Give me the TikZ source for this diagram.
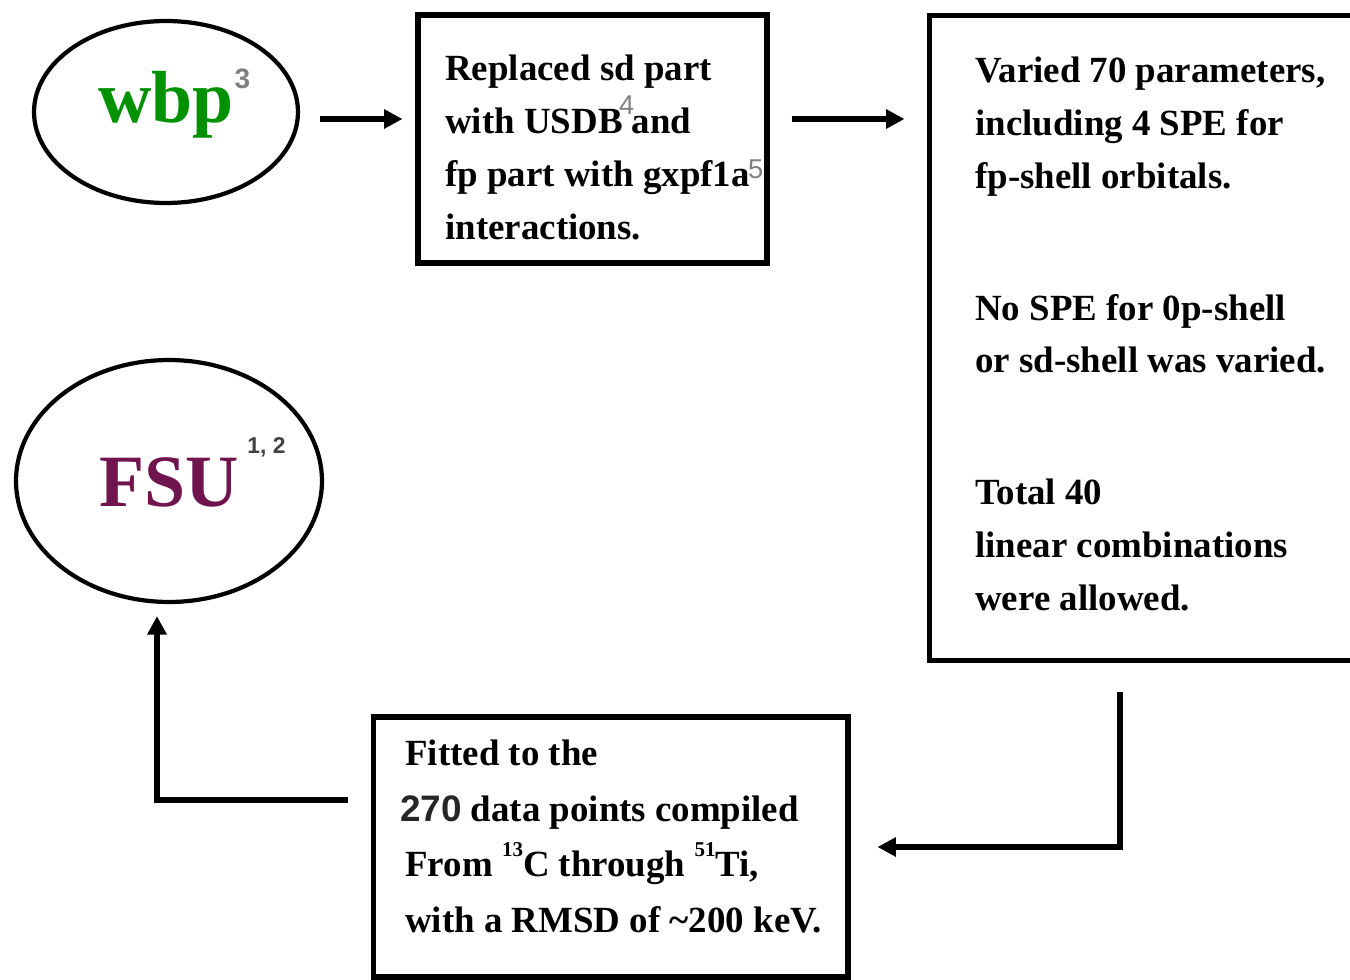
\documentclass[tikz,border=0pt]{standalone}
\usepackage{fontspec}
\setmainfont{Liberation Serif}
\newfontfamily\arialfont{Liberation Sans}
\usetikzlibrary{shapes.geometric,arrows.meta}
\definecolor{wbpgreen}{RGB}{0,145,0}
\definecolor{fsumaroon}{RGB}{112,20,78}
% reference number set over the text: shift, raise, size, text
\newcommand{\refnum}[4]{\rlap{\hspace{#1}\raisebox{#2}{\arialfont\fontsize{#3}{#3}\selectfont #4}}}
\newcommand{\isomass}[1]{\raisebox{11.3pt}{\fontsize{12}{12}\selectfont #1}}

\begin{document}
\begin{tikzpicture}[x=0.02cm, y=-0.02cm,
    oval/.style={draw, ellipse, line width=2.4pt, inner sep=0pt},
    stepbox/.style={draw, rectangle, line width=2.9pt, inner sep=0pt},
    para/.style={anchor=base west, align=left, inner sep=0pt, font=\bfseries\fontsize{21}{30}\selectfont},
    flow/.style={line width=3.2pt, -{Triangle[length=10.5pt, width=10.5pt]}}]
  \useasboundingbox (0,0) rectangle (1350,980);

  % models
  \node[oval, minimum width=5.28cm, minimum height=3.64cm, text height=31pt, text depth=18.5pt] (wbp)at(166, 112) {\fontsize{42}{42}\selectfont\bfseries\color{wbpgreen}wbp\refnum{0.5pt}{19.8pt}{16}{\color{gray}3}};
  \node[oval, minimum width=6.12cm, minimum height=4.84cm, text height=40pt, text depth=10.6pt] (fsu)at(169, 481) {\fontsize{42}{42}\selectfont\bfseries\color{fsumaroon}FSU\refnum{5pt}{30.6pt}{13}{\color{black!75}1, 2}};

  % steps
  \node[stepbox, minimum width=6.98cm, minimum height=4.96cm] (rep)at(592.5, 139) {};
  \node[stepbox, minimum width=9.02cm, minimum height=12.92cm] (var)at(1154.5, 338) {};
  \node[stepbox, minimum width=9.5cm, minimum height=5.2cm] (fit)at(610.5, 847) {};

  % texts, placed at the baseline of their last line
  \node[para] (reptext)at(445, 239) {Replaced sd part\\with USDB\refnum{-2pt}{11pt}{15.5}{\mdseries\color{gray}4} and\\fp part with gxpf1a\refnum{-1pt}{4.5pt}{15.5}{\mdseries\color{gray}5}\\interactions.};
  \node[para] (vartext)at(975, 610) {Varied 70 parameters,\\including 4 SPE for\\fp-shell orbitals.\\[45pt]No SPE for 0p-shell\\or sd-shell was varied.\\[45pt]Total 40\\linear combinations\\were allowed.};
  \node[para, font=\bfseries\fontsize{21}{31.5}\selectfont] (fittext)at(405, 932) {Fitted to the\\\hspace*{-3pt}{\arialfont\color{black!85}270} data points compiled\\From \isomass{13}C through \isomass{51}Ti,\\with a RMSD of \textasciitilde200 keV.};

  % flow
  \draw[flow, shorten <=0.4cm, shorten >=0.26cm] ([yshift=-0.14cm]wbp.east) -- ([yshift=-0.14cm]wbp.east -| rep.west);
  \draw[flow, shorten <=0.44cm, shorten >=0.44cm] ([yshift=0.4cm]rep.east) -- ([yshift=0.4cm]rep.east -| var.west);
  \draw[flow, shorten <=0.58cm, shorten >=0.54cm] (var.south -| 1120,0) |- (fit.east);
  \draw[flow, shorten <=0.46cm, shorten >=0.24cm] ([yshift=0.94cm]fit.west) -| (fsu.south -| 157,0);
\end{tikzpicture}
\end{document}
